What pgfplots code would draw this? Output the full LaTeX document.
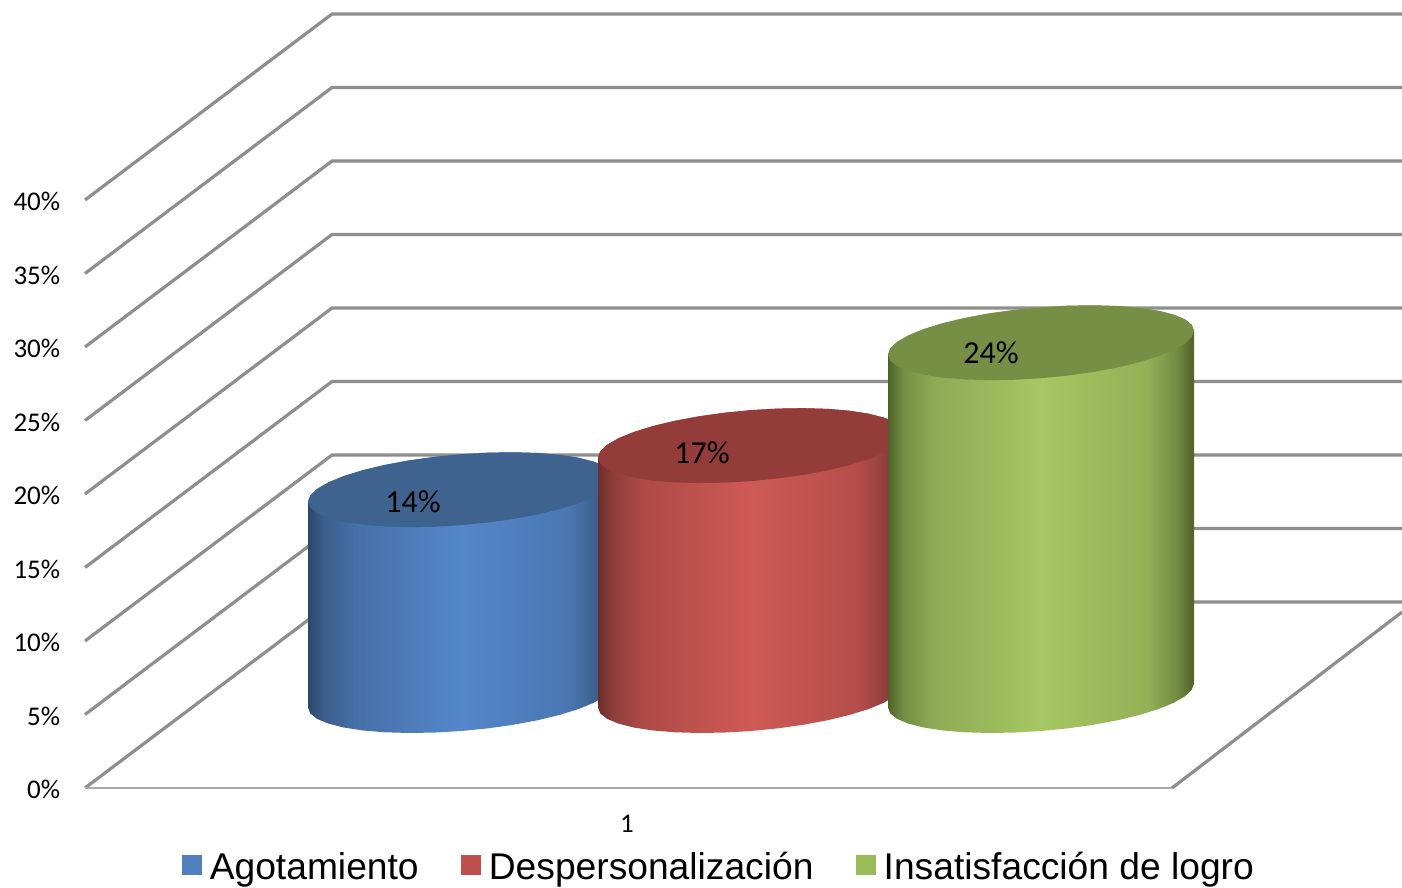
\documentclass[border=0pt]{standalone}
\usepackage{fontspec}
\setmainfont{Liberation Sans}
\newfontfamily\carlito{Carlito}
\usepackage{pgfplots}
\usepackage{pgfplotstable}
\pgfplotsset{compat=1.18}

\definecolor{gridgray}{HTML}{8E8E8E}
\definecolor{floorgray}{HTML}{ABABAB}
\definecolor{blueside}{HTML}{4F81BD}
\definecolor{redside}{HTML}{C0504D}
\definecolor{greenside}{HTML}{9BBB59}
\definecolor{bluetop}{HTML}{3E638F}
\definecolor{redtop}{HTML}{933C39}
\definecolor{greentop}{HTML}{778F45}
\definecolor{ba}{HTML}{2A4869}\definecolor{bb}{HTML}{3B5E8C}\definecolor{bc}{HTML}{4670A6}
\definecolor{bd}{HTML}{5487CB}\definecolor{be}{HTML}{4A77B2}\definecolor{bf}{HTML}{3D618F}
\definecolor{ra}{HTML}{6B2E2C}\definecolor{rb}{HTML}{8F3F3C}\definecolor{rc}{HTML}{AE4A47}
\definecolor{rd}{HTML}{CF5A56}\definecolor{re}{HTML}{B54D4A}\definecolor{rf}{HTML}{8F3F3C}
\definecolor{ga}{HTML}{4F6229}\definecolor{gb}{HTML}{728F45}\definecolor{gc}{HTML}{8DAB55}
\definecolor{gd}{HTML}{A6C762}\definecolor{ge}{HTML}{93B056}\definecolor{gf}{HTML}{748D43}

% Cylinder walls: rounded light across the face, dark towards both edges.
\pgfdeclarehorizontalshading{bluewall}{100bp}{
  color(0bp)=(ba); color(25bp)=(ba); color(27.5bp)=(bb);
  color(32.5bp)=(bc); color(50bp)=(bd); color(67.5bp)=(be);
  color(72bp)=(bf); color(75bp)=(ba); color(100bp)=(ba)}
\pgfdeclarehorizontalshading{redwall}{100bp}{
  color(0bp)=(ra); color(25bp)=(ra); color(27.5bp)=(rb);
  color(32.5bp)=(rc); color(50bp)=(rd); color(67.5bp)=(re);
  color(72bp)=(rf); color(75bp)=(ra); color(100bp)=(ra)}
\pgfdeclarehorizontalshading{greenwall}{100bp}{
  color(0bp)=(ga); color(25bp)=(ga); color(27.5bp)=(gb);
  color(32.5bp)=(gc); color(50bp)=(gd); color(67.5bp)=(ge);
  color(72bp)=(gf); color(75bp)=(ga); color(100bp)=(ga)}

% Outline of a cylinder: lower half of the ring (h=0) and upper half (h=1).
\pgfplotstableread{
c s h
-1.0000 0.0000 0
-0.9848 -0.1736 0
-0.9397 -0.3420 0
-0.8660 -0.5000 0
-0.7660 -0.6428 0
-0.6428 -0.7660 0
-0.5000 -0.8660 0
-0.3420 -0.9397 0
-0.1736 -0.9848 0
0.0000 -1.0000 0
0.1736 -0.9848 0
0.3420 -0.9397 0
0.5000 -0.8660 0
0.6428 -0.7660 0
0.7660 -0.6428 0
0.8660 -0.5000 0
0.9397 -0.3420 0
0.9848 -0.1736 0
1.0000 0.0000 0
1.0000 0.0000 1
0.9848 0.1736 1
0.9397 0.3420 1
0.8660 0.5000 1
0.7660 0.6428 1
0.6428 0.7660 1
0.5000 0.8660 1
0.3420 0.9397 1
0.1736 0.9848 1
0.0000 1.0000 1
-0.1736 0.9848 1
-0.3420 0.9397 1
-0.5000 0.8660 1
-0.6428 0.7660 1
-0.7660 0.6428 1
-0.8660 0.5000 1
-0.9397 0.3420 1
-0.9848 0.1736 1
-1.0000 0.0000 1
}\ringtable

% #1 centre x, #2 value in percent, #3 wall shading, #4 top colour,
% #5 label x, #6 label y
\newcommand{\cylinder}[6]{%
  \addplot[draw=none, shading=#3] table[
    x expr={#1+153*\thisrow{c}},
    y expr={6.29+#2*\thisrow{h}+2.415*\thisrow{s}+0.816*\thisrow{c}}] {\ringtable};
  \addplot[draw=none, fill=#4] table[
    x expr={#1+153*\thisrow{c}},
    y expr={6.29+#2+2.415*\thisrow{s}+0.816*\thisrow{c}}] {\ringtable};
  \node[font=\carlito\fontsize{16}{18}\selectfont, text=black, inner sep=0pt]
    at (axis cs:#5,#6) {#2\%};
}

\begin{document}
\begin{tikzpicture}
\begin{axis}[
  scale only axis, width=701pt, height=444pt,
  xmin=0, xmax=1402, ymin=-6.803, ymax=53.605,
  axis line style={draw=none},
  major tick style={draw=none}, minor tick style={draw=none},
  /pgf/number format/assume math mode=true,
  ytick={0,5,10,15,20,25,30,35,40},
  yticklabel={\pgfmathprintnumber{\tick}\%},
  yticklabel style={font=\carlito\fontsize{13.5}{16}\selectfont, anchor=east, xshift=30.3pt, yshift=-0.8pt, inner sep=0pt},
  tick label style={text=black},
  xtick={627}, xticklabels={1},
  xticklabel style={font=\carlito\fontsize{13.5}{16}\selectfont, anchor=center, yshift=32pt, inner sep=0pt},
  legend columns=3,
  legend cell align=left,
  legend style={
    at={(axis cs:182,-5.41)}, anchor=west,
    draw=none, fill=none, inner sep=0pt, outer sep=0pt,
    font=\fontsize{18.6}{22}\selectfont,
    nodes={inner sep=0pt, anchor=base west},
    /tikz/every odd column/.append style={column sep=4pt},
    /tikz/every even column/.append style={column sep=21.2pt},
  },
]
% back wall and side wall rules, one per percent level
\addplot[gridgray, line width=1.6pt, forget plot] coordinates {(85,0) (332,12.65) (1402,12.65)};
\addplot[gridgray, line width=1.6pt, forget plot] coordinates {(85,5) (332,17.65) (1402,17.65)};
\addplot[gridgray, line width=1.6pt, forget plot] coordinates {(85,10) (332,22.65) (1402,22.65)};
\addplot[gridgray, line width=1.6pt, forget plot] coordinates {(85,15) (332,27.65) (1402,27.65)};
\addplot[gridgray, line width=1.6pt, forget plot] coordinates {(85,20) (332,32.65) (1402,32.65)};
\addplot[gridgray, line width=1.6pt, forget plot] coordinates {(85,25) (332,37.65) (1402,37.65)};
\addplot[gridgray, line width=1.6pt, forget plot] coordinates {(85,30) (332,42.65) (1402,42.65)};
\addplot[gridgray, line width=1.6pt, forget plot] coordinates {(85,35) (332,47.65) (1402,47.65)};
\addplot[gridgray, line width=1.6pt, forget plot] coordinates {(85,40) (332,52.65) (1402,52.65)};
% floor edges
\addplot[floorgray, line width=1.1pt, forget plot] coordinates {(85,0) (1172,0)};
\addplot[gridgray, line width=1.6pt, forget plot] coordinates {(1172,0) (1402,11.97)};

\addlegendimage{legend image code/.code={\fill[blueside] (0pt,2.65pt) rectangle (9.5pt,12.15pt);}}
\addlegendentry{Agotamiento}
\addlegendimage{legend image code/.code={\fill[redside] (0pt,2.65pt) rectangle (9.5pt,12.15pt);}}
\addlegendentry{Despersonalización}
\addlegendimage{legend image code/.code={\fill[greenside] (0pt,2.65pt) rectangle (9.5pt,12.15pt);}}
\addlegendentry{Insatisfacción de logro}

\cylinder{461}{14}{bluewall}{bluetop}{413}{19.46}
\cylinder{751}{17}{redwall}{redtop}{702}{22.79}
\cylinder{1041}{24}{greenwall}{greentop}{991}{29.59}
\end{axis}
\end{tikzpicture}
\end{document}
